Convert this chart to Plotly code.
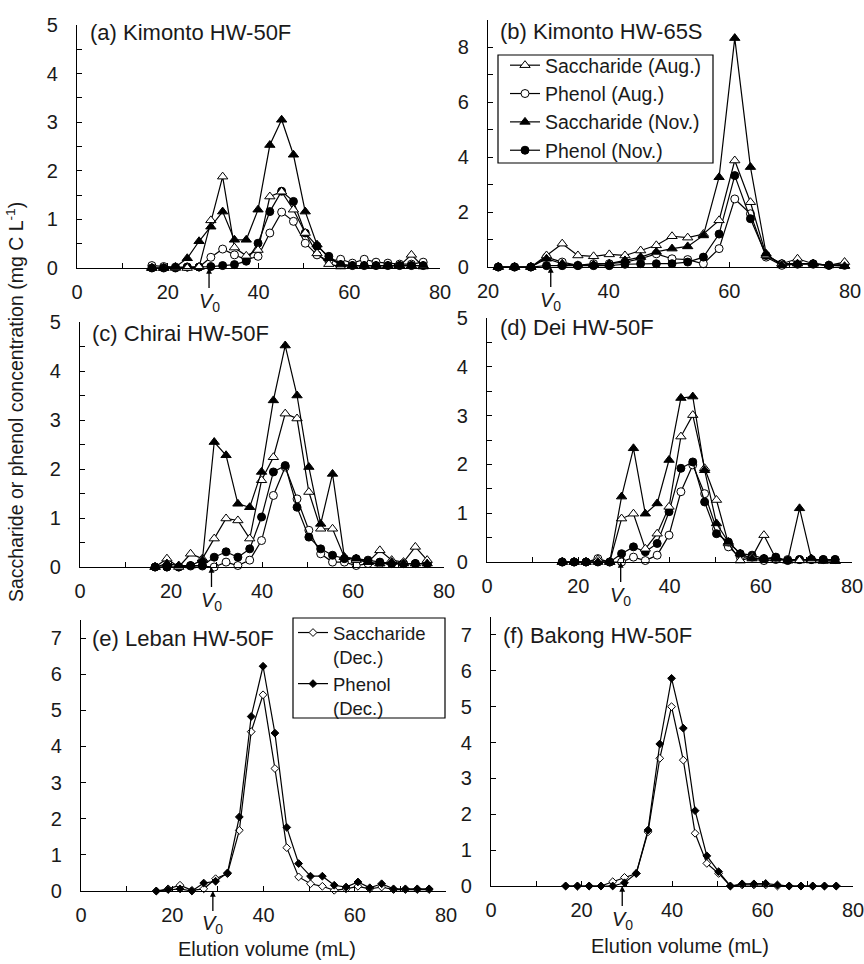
import plotly.graph_objects as go

# ---------------- data ----------------
x_50f = [16.5, 19.1, 21.7, 24.3, 26.9, 29.5, 32.1, 34.7, 37.3, 39.9, 42.5, 45.1,
         47.7, 50.3, 52.9, 55.5, 58.1, 60.7, 63.3, 65.9, 68.5, 71.1, 73.7, 76.3]
x_65s = [21.7, 24.4, 27.1, 29.7, 32.3, 34.9, 37.5, 40.1, 42.7, 45.3, 47.9, 50.5,
         53.1, 55.7, 58.3, 60.9, 63.5, 66.1, 68.7, 71.3, 73.9, 76.5, 79.1]

# (a) Kimonto HW-50F
a_sac_aug = [0, 0, 0, 0, 0.02, 0.98, 1.88, 0.42, 0.25, 0.37, 1.47, 1.57,
             1.2, 0.72, 0.3, 0.08, 0.03, 0.05, 0.05, 0.05, 0.05, 0.05, 0.27, 0.03]
a_phe_aug = [0.05, 0.03, 0.02, 0.02, 0.02, 0.22, 0.39, 0.27, 0.17, 0.24, 0.72, 1.15,
             0.96, 0.51, 0.27, 0.14, 0.18, 0.1, 0.18, 0.12, 0.1, 0.08, 0.08, 0.12]
a_sac_nov = [0, 0, 0.02, 0.2, 0.55, 0.85, 1.16, 0.58, 0.58, 1.2, 2.53, 3.05,
             2.33, 1.16, 0.48, 0.2, 0.07, 0.05, 0.05, 0.05, 0.05, 0.05, 0.05, 0.05]
a_phe_nov = [0, 0, 0, 0.02, 0.02, 0.03, 0.05, 0.07, 0.14, 0.51, 1.16, 1.58,
             1.37, 0.72, 0.45, 0.24, 0.07, 0.05, 0.05, 0.05, 0.05, 0.05, 0.05, 0.05]

# (b) Kimonto HW-65S
b_sac_aug = [0, 0, 0, 0.42, 0.85, 0.42, 0.39, 0.46, 0.42, 0.6, 0.79, 1.12,
             1.07, 1.2, 1.7, 3.88, 2.36, 0.42, 0.12, 0.3, 0.12, 0.06, 0.18]
b_phe_aug = [0, 0, 0, 0.36, 0.18, 0.06, 0.12, 0.12, 0.18, 0.3, 0.48, 0.3,
             0.27, 0.12, 0.67, 2.48, 1.94, 0.36, 0.06, 0.1, 0.1, 0.06, 0.1]
b_sac_nov = [0, 0, 0, 0.3, 0.12, 0.06, 0.08, 0.12, 0.24, 0.36, 0.55, 0.67,
             0.75, 1.15, 3.27, 8.34, 3.64, 0.48, 0.06, 0.12, 0.12, 0.06, 0.03]
b_phe_nov = [0, 0, 0, 0.05, 0.05, 0.05, 0.05, 0.05, 0.1, 0.12, 0.12, 0.12,
             0.18, 0.36, 1.2, 3.33, 1.76, 0.42, 0.12, 0.12, 0.12, 0.06, 0.06]

# (c) Chirai HW-50F
c_sac_aug = [0, 0.17, 0, 0.27, 0.17, 0.58, 0.99, 0.95, 0.58, 1.77, 2.24, 3.13,
             3.03, 1.53, 0.78, 0.78, 0.2, 0.14, 0.1, 0.34, 0.14, 0.1, 0.41, 0.14]
c_phe_aug = [0, 0, 0, 0.02, 0.02, 0, 0.1, 0.03, 0.14, 0.54, 1.46, 2.04,
             1.39, 0.75, 0.27, 0.1, 0.1, 0.03, 0.07, 0.07, 0.07, 0.07, 0.07, 0.07]
c_sac_nov = [0, 0.07, 0.03, 0.03, 0.14, 2.55, 2.28, 1.29, 1.22, 1.94, 3.4, 4.52,
             3.5, 2.04, 0.88, 1.9, 0.2, 0.17, 0.1, 0.07, 0.1, 0.07, 0.07, 0.07]
c_phe_nov = [0, 0, 0, 0.03, 0.03, 0.2, 0.31, 0.2, 0.37, 1.02, 1.94, 2.07,
             1.22, 0.61, 0.37, 0.24, 0.17, 0.17, 0.14, 0.1, 0.07, 0.07, 0.07, 0.07]

# (d) Dei HW-50F
d_sac_aug = [0, 0, 0, 0.05, 0, 0.89, 0.99, 0.27, 0.58, 1.13, 2.57, 3.01,
             1.92, 1.27, 0.38, 0.03, 0.1, 0.55, 0.07, 0.03, 0.03, 0.03, 0.02, 0.02]
d_phe_aug = [0, 0, 0, 0.07, 0, 0, 0.1, 0.03, 0.14, 0.55, 1.44, 1.99,
             1.4, 0.68, 0.31, 0.1, 0.1, 0.03, 0.05, 0.05, 0.05, 0.05, 0.05, 0.05]
d_sac_nov = [0, 0, 0, 0, 0, 1.34, 2.33, 0.99, 1.2, 2.09, 3.36, 3.39,
             1.88, 0.79, 0.41, 0.17, 0.07, 0.07, 0.07, 0.03, 1.1, 0.07, 0.03, 0.02]
d_phe_nov = [0, 0, 0, 0, 0, 0.17, 0.31, 0.21, 0.38, 1.03, 1.92, 2.05,
             1.23, 0.58, 0.41, 0.17, 0.14, 0.07, 0.1, 0.03, 0.05, 0.05, 0.05, 0.05]

# (e) Leban HW-50F
e_sac_dec = [0, 0.06, 0.16, 0.02, 0.06, 0.34, 0.48, 1.68, 4.41, 5.43, 3.39, 1.2,
             0.39, 0.2, 0.13, 0.02, 0.06, 0.13, 0.06, 0.11, 0.04, 0.04, 0.04, 0.04]
e_phe_dec = [0, 0.04, 0.06, 0, 0.22, 0.27, 0.5, 2.05, 4.83, 6.22, 4.37, 1.76,
             0.76, 0.41, 0.41, 0.16, 0.11, 0.25, 0.09, 0.2, 0.06, 0.06, 0.06, 0.06]

# (f) Bakong HW-50F
f_sac_dec = [0, 0, 0, 0, 0.12, 0.24, 0.35, 1.51, 3.56, 5.0, 3.51, 1.47,
             0.63, 0.35, 0, 0.03, 0.03, 0.03, 0, 0, 0, 0, 0, 0]
f_phe_dec = [0, 0, 0, 0, 0, 0.09, 0.35, 1.56, 3.96, 5.79, 4.4, 2.1,
             0.84, 0.4, 0, 0.06, 0.06, 0.07, 0.03, 0, 0, 0, 0, 0]

panel_titles = ["(a) Kimonto HW-50F", "(b) Kimonto HW-65S", "(c) Chirai HW-50F",
                "(d) Dei HW-50F", "(e) Leban HW-50F", "(f) Bakong HW-50F"]
v0_positions = [29.1, 30.4, 28.9, 29.3, 28.9, 29.0]
series_names_4 = ["Saccharide (Aug.)", "Phenol (Aug.)", "Saccharide (Nov.)", "Phenol (Nov.)"]
series_names_2 = ["Saccharide<br>(Dec.)", "Phenol<br>(Dec.)"]
y_title = "Saccharide or phenol concentration (mg C L<sup>-1</sup>)"
x_title = "Elution volume (mL)"

# ---------------- layout geometry (pixels) ----------------
W, H = 864, 964
FONT = "Arial, Liberation Sans, Helvetica, sans-serif"


def fx(px):
    return px / W


def fy(py):
    return (H - py) / H


# panel: (x-left px, x-right px, y-bottom px, y-top px, xrange, yrange)
panels = [
    (77, 440, 268, 25, [0, 80], [0, 5]),
    (488, 850, 267, 20, [20, 80], [0, 9]),
    (80, 444, 567, 322, [0, 80], [0, 5]),
    (487, 852, 562, 318, [0, 80], [0, 5]),
    (81, 446, 891, 620, [0, 80], [0, 7.5]),
    (491, 853, 886, 617, [0, 80], [0, 7.5]),
]
title_pos = [(88, 33), (498, 32), (90, 333), (498, 327), (90, 638), (501, 635)]

fig = go.Figure()

LINE_W = 1.2


def add(idx, xs, ys, name, symbol, filled, size, legend=None, rank=None):
    sfx = "" if idx == 0 else str(idx + 1)
    fig.add_trace(go.Scatter(
        x=xs, y=ys, mode="lines+markers", name=name,
        xaxis="x" + sfx, yaxis="y" + sfx,
        line=dict(color="black", width=LINE_W),
        marker=dict(symbol=symbol, size=size,
                    color="black" if filled else "white",
                    line=dict(color="black", width=1)),
        cliponaxis=False,
        showlegend=legend is not None,
        legend=legend if legend is not None else "legend",
        legendrank=rank if rank is not None else 1000,
    ))


four = [(a_sac_aug, a_phe_aug, a_sac_nov, a_phe_nov, x_50f),
        (b_sac_aug, b_phe_aug, b_sac_nov, b_phe_nov, x_65s),
        (c_sac_aug, c_phe_aug, c_sac_nov, c_phe_nov, x_50f),
        (d_sac_aug, d_phe_aug, d_sac_nov, d_phe_nov, x_50f)]

for i, (sa, pa, sn, pn, xs) in enumerate(four):
    lg = "legend" if i == 1 else None
    add(i, xs, pa, series_names_4[1], "circle", False, 8, lg, 2)
    add(i, xs, pn, series_names_4[3], "circle", True, 8, lg, 4)
    add(i, xs, sa, series_names_4[0], "triangle-up", False, 9, lg, 1)
    add(i, xs, sn, series_names_4[2], "triangle-up", True, 9, lg, 3)

two = [(e_sac_dec, e_phe_dec), (f_sac_dec, f_phe_dec)]
for j, (sd, pdv) in enumerate(two):
    i = 4 + j
    lg = "legend2" if j == 0 else None
    add(i, x_50f, sd, series_names_2[0], "diamond", False, 6, lg, 1)
    add(i, x_50f, pdv, series_names_2[1], "diamond", True, 6, lg, 2)

layout = dict(
    width=W, height=H,
    margin=dict(l=0, r=0, t=0, b=0, autoexpand=False),
    paper_bgcolor="white", plot_bgcolor="white",
    font=dict(family=FONT, size=20, color="#1a1a1a"),
    showlegend=True,
    legend=dict(x=fx(505), y=fy(46), xanchor="left", yanchor="top",
                borderwidth=0, bgcolor="rgba(0,0,0,0)",
                font=dict(size=19.5), tracegroupgap=0, itemwidth=30,
                traceorder="normal"),
    legend2=dict(x=fx(293), y=fy(614), xanchor="left", yanchor="top",
                 borderwidth=0, bgcolor="rgba(0,0,0,0)",
                 font=dict(size=18.5), tracegroupgap=0, itemwidth=30,
                 valign="top", traceorder="normal"),
    shapes=[
        dict(type="rect", xref="paper", yref="paper",
             x0=fx(498), x1=fx(713), y0=fy(163), y1=fy(55),
             line=dict(color="black", width=1.2), fillcolor="white", layer="below"),
        dict(type="rect", xref="paper", yref="paper",
             x0=fx(293), x1=fx(445), y0=fy(718), y1=fy(618),
             line=dict(color="black", width=1.2), fillcolor="white", layer="above"),
    ],
)

annotations = []
for i, (xl, xr, yb, yt, xr_, yr_) in enumerate(panels):
    sfx = "" if i == 0 else str(i + 1)
    xt = list(range(int(xr_[0]), 81, 10))
    xtt = [str(v) if v % 20 == 0 else "" for v in xt]
    if yr_[1] == 5:
        yt_v = [k * 0.5 for k in range(11)]
        yt_t = [str(int(v)) if v == int(v) else "" for v in yt_v]
    elif yr_[1] == 9:
        yt_v = list(range(10))
        yt_t = [str(v) if v % 2 == 0 and v < 9 else "" for v in yt_v]
    else:
        yt_v = list(range(8))
        yt_t = [str(v) for v in yt_v]
    layout["xaxis" + sfx] = dict(
        domain=[fx(xl), fx(xr)], range=xr_, anchor="y" + sfx, automargin=False,
        showline=True, linecolor="black", linewidth=1.3, mirror=False,
        showgrid=False, zeroline=False,
        ticks="inside", ticklen=5, tickwidth=1, tickcolor="black",
        tickmode="array", tickvals=xt, ticktext=xtt, ticklabeloverflow="allow",
        tickfont=dict(size=20), ticklabelstandoff=6,
    )
    layout["yaxis" + sfx] = dict(
        domain=[fy(yb), fy(yt)], range=yr_, anchor="x" + sfx, automargin=False,
        showline=True, linecolor="black", linewidth=1.3, mirror=False,
        showgrid=False, zeroline=False,
        ticks="inside", ticklen=5, tickwidth=1, tickcolor="black",
        tickmode="array", tickvals=yt_v, ticktext=yt_t, ticklabeloverflow="allow",
        tickfont=dict(size=20), ticklabelstandoff=14,
    )
    tx, ty = title_pos[i]
    annotations.append(dict(
        text=panel_titles[i], xref="paper", yref="paper",
        x=fx(tx), y=fy(ty), xanchor="left", yanchor="middle", showarrow=False,
        font=dict(size=22),
    ))
    annotations.append(dict(
        text="<i>V</i><sub>0</sub>", x=v0_positions[i], y=0,
        xref="x" + sfx, yref="y" + sfx, showarrow=True,
        ax=0, ay=34, arrowhead=2, arrowsize=0.9, arrowwidth=1.3,
        arrowcolor="black", font=dict(size=20),
    ))

annotations.append(dict(
    text=y_title, xref="paper", yref="paper", x=fx(15), y=fy(402),
    textangle=-90, showarrow=False, xanchor="center", yanchor="middle",
    font=dict(size=19.5),
))
annotations.append(dict(
    text=x_title, xref="paper", yref="paper", x=fx(267), y=fy(949),
    showarrow=False, xanchor="center", yanchor="middle", font=dict(size=20),
))
annotations.append(dict(
    text=x_title, xref="paper", yref="paper", x=fx(680), y=fy(946),
    showarrow=False, xanchor="center", yanchor="middle", font=dict(size=20),
))
layout["annotations"] = annotations

fig.update_layout(**layout)
fig.write_html("out.html", config={"displayModeBar": False},
               post_script="document.body.style.margin='0';document.body.style.overflow='hidden';")
